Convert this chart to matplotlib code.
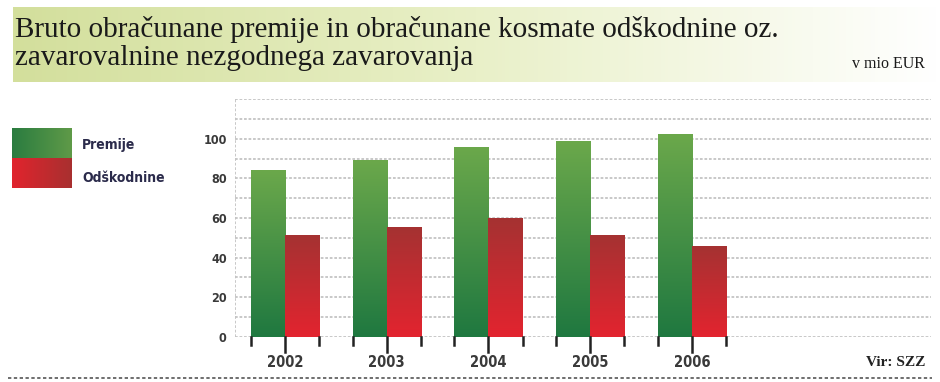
import numpy as np
import matplotlib.pyplot as plt
from matplotlib.colors import LinearSegmentedColormap

# podatki (v mio EUR)
leta = ['2002', '2003', '2004', '2005', '2006']
premije = [84, 89, 96, 99, 102.5]
odskodnine = [51.5, 55.5, 60, 51.5, 45.5]

naslov = 'Bruto obračunane premije in obračunane kosmate odškodnine oz.\nzavarovalnine nezgodnega zavarovanja'
enota = 'v mio EUR'
vir = 'Vir: SZZ'

sans = ['DejaVu Sans']
serif = ['Liberation Serif', 'DejaVu Serif']

zelena = LinearSegmentedColormap.from_list('zel', ['#1f7840', '#6ba84b'])
rdeca = LinearSegmentedColormap.from_list('rde', ['#e3242f', '#a53232'])

fig = plt.figure(figsize=(9.4, 3.82), dpi=100)

# pas z naslovom
ban = fig.add_axes([13 / 940, 1 - 82 / 382, 927 / 940, 75 / 382])
grad = np.linspace(0, 1, 256).reshape(1, -1)
ban.imshow(grad, aspect='auto', cmap=LinearSegmentedColormap.from_list('b', ['#d3df9c', '#e9f0c8', '#ffffff']),
           extent=[0, 1, 0, 1])
ban.set_xlim(0, 1)
ban.set_ylim(0, 1)
ban.axis('off')
vrstici = naslov.split('\n')
fig.text(15 / 940, 1 - 37 / 382, vrstici[0], family=serif, fontsize=21, color='#1a1a1a', va='baseline')
fig.text(15 / 940, 1 - 65 / 382, vrstici[1], family=serif, fontsize=21, color='#1a1a1a', va='baseline')
fig.text(925 / 940, 1 - 68 / 382, enota, family=serif, fontsize=11.5, color='#1a1a1a', ha='right', va='baseline')

# graf
ax = fig.add_axes([235 / 940, 45.3 / 382, 696 / 940, 237.4 / 382])
x = np.arange(len(leta))
w = 0.335
vert = np.linspace(0, 1, 256).reshape(-1, 1)
for i in range(len(leta)):
    ax.imshow(vert, cmap=zelena, origin='lower', aspect='auto', zorder=3,
              extent=[x[i] - w, x[i], 0, premije[i]])
    ax.imshow(vert, cmap=rdeca, origin='lower', aspect='auto', zorder=3,
              extent=[x[i], x[i] + w, 0, odskodnine[i]])

for y in range(0, 130, 10):
    ax.axhline(y, color='#c4c4c4', lw=1.3, ls=(0, (1.5, 1)), zorder=1)
ax.axvline(-0.491, ymin=0, ymax=1, color='#c4c4c4', lw=1.3, ls=(0, (1.5, 1)), zorder=1)

# oznake pod osjo
for i in range(len(leta)):
    for dx, d in [(-w, 8), (0, 15), (w, 8)]:
        ax.plot([x[i] + dx, x[i] + dx], [0, -d / 1.978], color='#222222', lw=1.8, clip_on=False, zorder=4)
    ax.text(x[i], -26 / 1.978, leta[i], ha='center', va='center', family=sans, fontstretch='condensed',
            fontsize=10.5, fontweight='bold', color='#3a3a3a')

ax.set_xlim(-0.491, 6.35)
ax.set_ylim(0, 120)
ax.set_xticks([])
ax.set_yticks(range(0, 101, 20))
ax.set_yticklabels([str(v) for v in range(0, 101, 20)], family=sans, fontstretch='condensed',
                   fontsize=9, fontweight='bold', color='#3a3a3a')
ax.tick_params(axis='y', length=0, pad=6)
for s in ax.spines.values():
    s.set_visible(False)

# legenda
leg = fig.add_axes([12 / 940, 1 - 188 / 382, 60 / 940, 60 / 382])
horiz = np.linspace(0, 1, 256).reshape(1, -1)
leg.imshow(horiz, cmap=LinearSegmentedColormap.from_list('lz', ['#2a7c40', '#5f9a48']), aspect='auto', extent=[0, 1, 0.5, 1])
leg.imshow(horiz, cmap=LinearSegmentedColormap.from_list('lr', ['#e1242d', '#a83030']), aspect='auto', extent=[0, 1, 0, 0.5])
leg.set_xlim(0, 1)
leg.set_ylim(0, 1)
leg.axis('off')
fig.text(82 / 940, 1 - 145 / 382, 'Premije', family=sans, fontstretch='condensed', fontsize=10,
         fontweight='bold', color='#2b2b4b', va='center')
fig.text(82 / 940, 1 - 178 / 382, 'Odškodnine', family=sans, fontstretch='condensed', fontsize=10,
         fontweight='bold', color='#2b2b4b', va='center')

fig.text(925 / 940, 1 - 363 / 382, vir, family=serif, fontsize=11, fontweight='bold', color='#222222',
         ha='right', va='center')
fig.add_artist(plt.Line2D([8 / 940, 932 / 940], [1 - 378 / 382] * 2, color='#555555', lw=1.2, ls=(0, (2, 1.5))))

fig.savefig('out.png', dpi=100)
